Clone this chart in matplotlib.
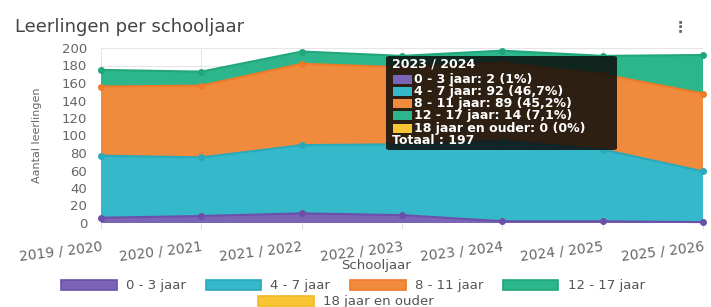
import matplotlib
matplotlib.use("Agg")
import numpy as np
import matplotlib.pyplot as plt
from matplotlib.patches import Rectangle, FancyBboxPatch, Patch

# data
years = ["2019 / 2020", "2020 / 2021", "2021 / 2022", "2022 / 2023",
         "2023 / 2024", "2024 / 2025", "2025 / 2026"]
age_0_3 = [6, 8, 11, 9, 2, 2, 1]
age_4_7 = [71, 67, 78, 81, 92, 82, 58]
age_8_11 = [79, 82, 93, 88, 89, 86, 89]
age_12_17 = [19, 16, 14, 13, 14, 21, 44]
age_18 = [0, 0, 0, 0, 0, 0, 0]
labels = ["0 - 3 jaar", "4 - 7 jaar", "8 - 11 jaar", "12 - 17 jaar", "18 jaar en ouder"]
fills = ["#7b63b6", "#35b8c9", "#f08a3c", "#2db68b", "#f8c535"]
lines = ["#6a50a8", "#2aa9bb", "#ee7a2a", "#22a67c", "#f0b820"]
tip_idx = 4  # tooltip shown for 2023 / 2024

plt.rcParams['font.family'] = ['DejaVu Sans']
W, H = 711, 307
fig = plt.figure(figsize=(W / 100, H / 100), dpi=100)

def fx(x): return x / W
def fy(y): return 1 - y / H

ax = fig.add_axes([fx(101), fy(223), fx(703) - fx(101), fy(48) - fy(223)])
series = [age_0_3, age_4_7, age_8_11, age_12_17, age_18]
x = np.arange(len(years))
ax.stackplot(x, *series, colors=fills, zorder=2)
cum = np.cumsum(np.array(series), axis=0)
for i in range(4):
    ax.plot(x, cum[i], color=lines[i], lw=1.5, marker="o", ms=4, zorder=3, clip_on=False)

ax.set_xlim(0, len(years) - 1)
ax.set_ylim(0, 200)
ax.set_yticks(range(0, 201, 20))
ax.set_xticks(x)
ax.set_xticklabels(years, rotation=7, ha="right", rotation_mode="anchor", fontsize=10, color="#666666")
ax.tick_params(axis="y", labelsize=9.5, colors="#666666", length=0, pad=10)
ax.tick_params(axis="x", length=4, color="#dddddd", pad=8)
ax.grid(True, color="#e6e6e6", lw=0.8, zorder=0)
ax.set_axisbelow(True)
for s in ax.spines.values():
    s.set_visible(False)
ax.set_ylabel("Aantal leerlingen", family=["Liberation Sans Narrow", "DejaVu Sans"], fontsize=8, color="#666666", labelpad=14)
fig.text(fx(376), fy(266), "Schooljaar", fontsize=9.5, color="#555555", ha="center", va="center")

fig.text(fx(15), fy(27), "Leerlingen per schooljaar", fontsize=13, color="#444444", va="center")
fig.text(fx(680), fy(27), "\u22ee", fontsize=11, color="#666666", va="center", ha="center", weight="bold")

# legend: two rows
h1 = [Patch(facecolor=fills[i], edgecolor=lines[i], lw=1.2) for i in range(4)]
fig.legend(h1, labels[:4], loc="center", bbox_to_anchor=(fx(353), fy(286)), ncol=4, frameon=False,
           fontsize=9.5, handlelength=4.2, handleheight=0.8, handletextpad=0.7, columnspacing=1.5,
           labelcolor="#555555", borderpad=0, borderaxespad=0)
fig.legend([Patch(facecolor=fills[4], edgecolor=lines[4], lw=1.2)], labels[4:], loc="center",
           bbox_to_anchor=(fx(346), fy(302)), frameon=False, fontsize=9.5, handlelength=4.2,
           handleheight=0.8, handletextpad=0.7, labelcolor="#555555", borderpad=0, borderaxespad=0)

# tooltip
fig.patches.append(FancyBboxPatch((fx(386), fy(150)), fx(617) - fx(386), fy(56) - fy(150),
                                  boxstyle="round,pad=0,rounding_size=0.006", transform=fig.transFigure,
                                  facecolor="#0c0c0c", alpha=0.85, edgecolor="none", zorder=5))
total = sum(s[tip_idx] for s in series)
fig.text(fx(392), fy(64), years[tip_idx], color="white", fontsize=9, weight="bold", va="center", zorder=6)
for i in range(5):
    yy = 79 + i * 12.3
    fig.patches.append(Rectangle((fx(393), fy(yy + 4.5)), fx(19), fy(0) - fy(9), transform=fig.transFigure,
                                 facecolor=fills[i], edgecolor="none", zorder=6))
    v = series[i][tip_idx]
    pct = f"{100 * v / total:.1f}".replace(".", ",").replace(",0", "")
    fig.text(fx(414), fy(yy), f"{labels[i]}: {v} ({pct}%)", color="white", fontsize=9, weight="bold",
             va="center", zorder=6)
fig.text(fx(392), fy(140), f"Totaal : {total}", color="white", fontsize=9, weight="bold", va="center", zorder=6)

fig.savefig("out.png", dpi=100)
